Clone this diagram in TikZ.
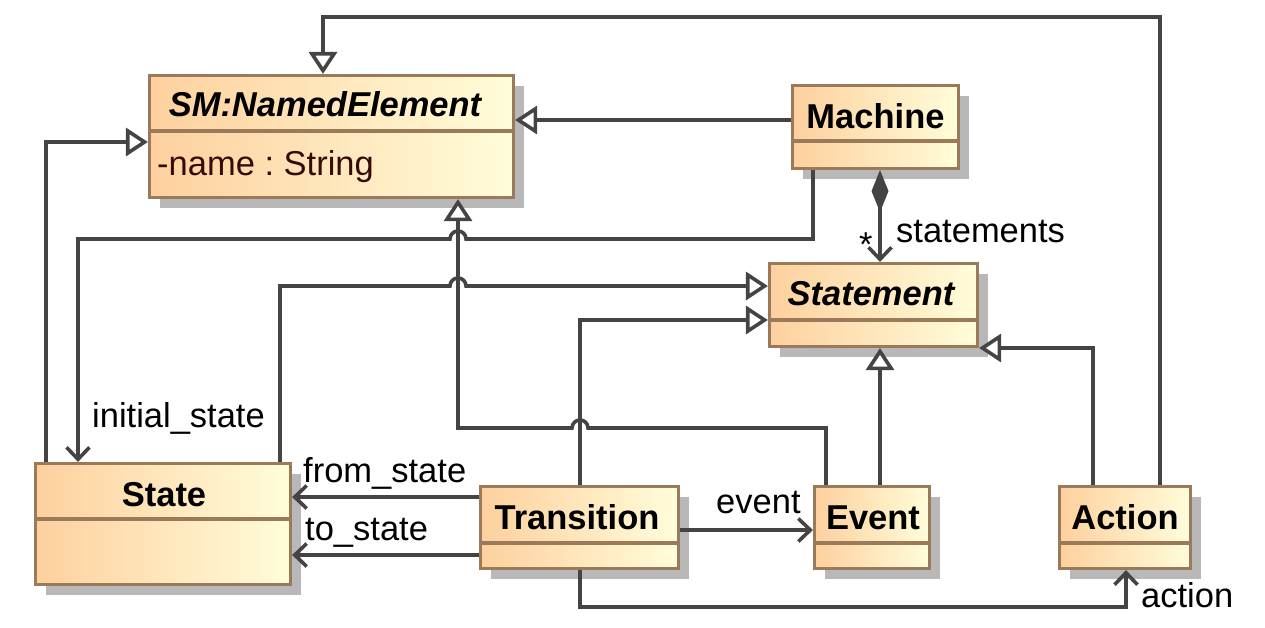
\documentclass[tikz,border=0pt]{standalone}
\usepackage{fontspec}
\setmainfont{Liberation Sans}
\usetikzlibrary{arrows.meta,shadows,calc}
\definecolor{cL}{RGB}{254,208,158}
\definecolor{cR}{RGB}{255,253,218}
\definecolor{bord}{RGB}{155,122,90}
\definecolor{ln}{RGB}{68,68,68}
\definecolor{attr}{RGB}{55,10,10}
\frenchspacing
\begin{document}
\begin{tikzpicture}[x=1pt,y=-1pt,
  cls/.style={draw=bord, line width=3.2pt, left color=cL, right color=cR, inner sep=0pt,
    drop shadow={shadow xshift=10pt,shadow yshift=-10pt,fill=black!28,opacity=1}},
  divl/.style={draw=bord, line width=3.2pt},
  hdr/.style={anchor=base, inner sep=0pt, font=\fontsize{34.5}{40}\selectfont\bfseries},
  lbl/.style={anchor=base west, inner sep=0pt, font=\fontsize{34.5}{40}\selectfont},
  conn/.style={draw=ln, line width=3.6pt},
  gen/.style={conn, -{Triangle[fill=white,length=22pt,width=28pt,line width=3.6pt]}},
  nav/.style={conn, -{Straight Barb[length=12pt,width=23pt,line width=3.6pt]}},
]
\useasboundingbox (0,0) rectangle (1265,627);

% classes
\node[cls, minimum width=364pt, minimum height=122pt] (ne) at (331.5,136.5) {};
\node[cls, minimum width=166pt, minimum height=83pt] (mach) at (875.5,127) {};
\node[cls, minimum width=208pt, minimum height=83pt] (stmt) at (873.5,305) {};
\node[cls, minimum width=255pt, minimum height=121pt] (st) at (163,524) {};
\node[cls, minimum width=198pt, minimum height=82pt] (tr) at (579.5,527.5) {};
\node[cls, minimum width=115pt, minimum height=82pt] (ev) at (872,527.5) {};
\node[cls, minimum width=131pt, minimum height=82pt] (act) at (1125,527.5) {};

% dividers
\draw[divl] (ne.west |- 0,131) -- (ne.east |- 0,131);
\draw[divl] (mach.west |- 0,141) -- (mach.east |- 0,141);
\draw[divl] (stmt.west |- 0,320) -- (stmt.east |- 0,320);
\draw[divl] (st.west |- 0,519) -- (st.east |- 0,519);
\draw[divl] (tr.west |- 0,543) -- (tr.east |- 0,543);
\draw[divl] (ev.west |- 0,543) -- (ev.east |- 0,543);
\draw[divl] (act.west |- 0,543) -- (act.east |- 0,543);

% titles
\node[hdr, font=\fontsize{34.5}{40}\selectfont\bfseries\itshape] (net) at (325,116) {SM:NamedElement};
\node[lbl, text=attr] (nea) at (157,175) {-name : String};
\node[hdr] (macht) at (875.5,128) {Machine};
\node[hdr, font=\fontsize{34.5}{40}\selectfont\bfseries\itshape] (stmtt) at (871,305) {Statement};
\node[hdr] (stt) at (164,506) {State};
\node[hdr] (trt) at (577,529) {Transition};
\node[hdr] (evt) at (873,529) {Event};
\node[hdr] (actt) at (1125,529) {Action};

% generalisations
\draw[gen] (act.north -| 1160,0) -- (1160,17) -- (323,17) -- (ne.north -| 323,0);
\draw[gen] (mach.west |- 0,120) -- (ne.east |- 0,120);
\draw[gen] (st.north -| 46,0) -- (46,142) -- (ne.west |- 0,142);
\draw[gen] (st.north -| 280,0) -- (280,286) -- (450,286)
  arc[start angle=180,end angle=0,radius=8pt] -- (stmt.west |- 0,286);
\draw[gen] (tr.north -| 580,0) -- (580,320) -- (stmt.west |- 0,320);
\draw[gen] (ev.north -| 826,0) -- (826,428) -- (588,428)
  arc[start angle=0,end angle=180,radius=8pt] -- (458,428) -- (ne.south -| 458,0);
\draw[gen] (ev.north -| 880,0) -- (stmt.south -| 880,0);
\draw[gen] (act.north -| 1093,0) -- (1093,348) -- (stmt.east |- 0,348);

% associations
\draw[nav] (mach.south -| 813,0) -- (813,239) -- (466,239)
  arc[start angle=0,end angle=180,radius=8pt] -- (78,239) -- (st.north -| 78,0);
\node[lbl] (lis) at (92,427) {initial\_state};
\draw[conn, {Diamond[length=42pt,width=17pt]}-{Straight Barb[length=12pt,width=23pt,line width=3.6pt]}]
  (mach.south -| 880,0) -- (stmt.north -| 880,0);
\node[lbl] (lstm) at (896,242) {statements};
\node[lbl] (lstar) at (859,256) {*};
\draw[nav] (tr.west |- 0,497) -- (st.east |- 0,497);
\node[lbl] (lfrom) at (303,482) {from\_state};
\draw[nav] (tr.west |- 0,555) -- (st.east |- 0,555);
\node[lbl] (lto) at (305,540) {to\_state};
\draw[nav] (tr.east |- 0,530) -- (ev.west |- 0,530);
\node[lbl] (lev) at (716,513) {event};
\draw[nav] (tr.south -| 580,0) -- (580,607) -- (1126,607) -- (act.south -| 1126,0);
\node[lbl] (lact) at (1141,607) {action};
\end{tikzpicture}
\end{document}
